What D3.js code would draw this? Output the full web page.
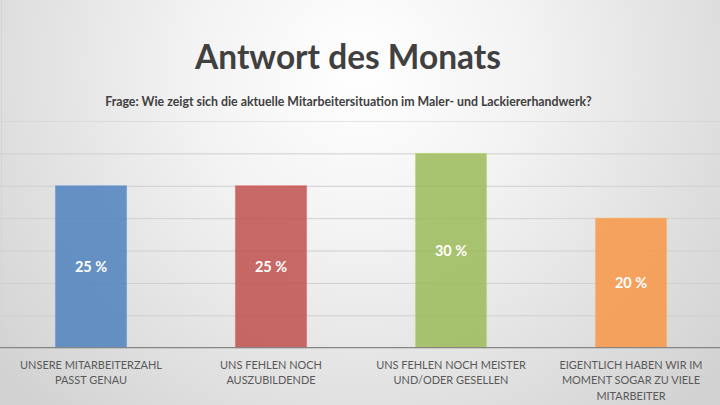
<!DOCTYPE html>
<html>
<head>
<meta charset="utf-8">
<script src="https://cdn.jsdelivr.net/npm/d3@7"></script>
<style>
  html, body { margin: 0; padding: 0; background: #fff; }
  svg { display: block; font-family: Lato, "Open Sans", sans-serif; }
</style>
</head>
<body>
<div id="chart"></div>
<script>
// chart data
const categories = [
  "UNSERE MITARBEITERZAHL\nPASST GENAU",
  "UNS FEHLEN NOCH\nAUSZUBILDENDE",
  "UNS FEHLEN NOCH MEISTER\nUND/ODER GESELLEN",
  "EIGENTLICH HABEN WIR IM\nMOMENT SOGAR ZU VIELE\nMITARBEITER"
];
const values = [25, 25, 30, 20];
const barColors = ["#4f81bd", "#c0504d", "#9bbb59", "#f79646"];
const yTicks = [0, 5, 10, 15, 20, 25, 30, 35];

const title = "Antwort des Monats";
const subtitle = "Frage: Wie zeigt sich die aktuelle Mitarbeitersituation im Maler- und Lackiererhandwerk?";

const W = 720, H = 405;
const svg = d3.select('#chart').append('svg')
  .attr('width', W).attr('height', H)
  .attr('viewBox', `0 0 ${W} ${H}`);

// background: soft radial gradient
const defs = svg.append('defs');
const bg = defs.append('radialGradient').attr('id', 'bg')
  .attr('gradientUnits', 'userSpaceOnUse')
  .attr('cx', 360).attr('cy', 70).attr('r', 470);
bg.append('stop').attr('offset', '0%').attr('stop-color', '#ffffff');
bg.append('stop').attr('offset', '35%').attr('stop-color', '#f3f3f3');
bg.append('stop').attr('offset', '100%').attr('stop-color', '#d2d2d2');
svg.append('rect').attr('width', W).attr('height', H).attr('fill', 'url(#bg)');

// scales
const x = d3.scaleBand()
  .domain(d3.range(categories.length))
  .range([1, 721])
  .paddingInner(0.605)
  .paddingOuter(0.3025);

const y = d3.scaleLinear().domain([0, 35]).range([347.7, 121]);

// gridlines
svg.append('g').attr('class', 'grid')
  .attr('transform', 'translate(0,0)')
  .call(d3.axisLeft(y).tickValues(yTicks.filter(t => t > 0)).tickSize(-W).tickFormat(''))
  .call(g => g.select('.domain').remove())
  .call(g => g.selectAll('line').attr('stroke', '#cfcfcf').attr('stroke-width', 1)
    .attr('stroke-opacity', (d) => d === 35 ? 0.55 : 1));

// left border
svg.append('line')
  .attr('x1', 1.5).attr('x2', 1.5).attr('y1', 0).attr('y2', H)
  .attr('stroke', '#d4d4d4');

// bars
svg.append('g').selectAll('rect')
  .data(values)
  .join('rect')
  .attr('x', (d, i) => x(i))
  .attr('y', d => y(d))
  .attr('width', x.bandwidth())
  .attr('height', d => y(0) - y(d))
  .attr('fill', (d, i) => barColors[i])
  .attr('fill-opacity', 0.85)
  .attr('stroke', (d, i) => d3.color(barColors[i]).brighter(0.5))
  .attr('stroke-opacity', 0.5)
  .attr('stroke-width', 1);

// x axis line
svg.append('g')
  .attr('transform', `translate(0,${y(0)})`)
  .call(d3.axisBottom(x).tickSize(0).tickFormat(''))
  .call(g => g.select('.domain').attr('d', `M0,0H${W}`).attr('stroke', '#858585').attr('stroke-width', 1.3));

// value labels
svg.append('g').selectAll('text')
  .data(values)
  .join('text')
  .attr('x', (d, i) => x(i) + x.bandwidth() / 2)
  .attr('y', d => (y(d) + y(0)) / 2)
  .attr('dy', '0.36em')
  .attr('text-anchor', 'middle')
  .attr('fill', '#ffffff')
  .attr('font-weight', 700)
  .attr('font-size', 14.5)
  .text(d => `${d} %`);

// category labels
const catG = svg.append('g').selectAll('text')
  .data(categories)
  .join('text')
  .attr('text-anchor', 'middle')
  .attr('fill', '#595959')
  .attr('font-size', 12);
catG.each(function(d, i) {
  const t = d3.select(this);
  d.split('\n').forEach((line, j) => {
    t.append('tspan')
      .attr('x', x(i) + x.bandwidth() / 2)
      .attr('y', 368.5 + j * 15.7)
      .text(line);
  });
});
// fit label size to the reference width of the first label line
const firstLine = catG.select('tspan').node();
const lw = firstLine.getComputedTextLength();
catG.attr('font-size', 12 * 142 / lw);

// title & subtitle
const titleEl = svg.append('text')
  .attr('x', 348).attr('y', 69.3)
  .attr('text-anchor', 'middle')
  .attr('fill', '#404040')
  .attr('font-weight', 700)
  .attr('font-size', 32)
  .text(title);
titleEl.attr('font-size', 32 * 306 / titleEl.node().getComputedTextLength());

const subEl = svg.append('text')
  .attr('x', 348.5).attr('y', 106)
  .attr('text-anchor', 'middle')
  .attr('fill', '#404040')
  .attr('font-weight', 700)
  .attr('font-size', 12)
  .text(subtitle);
subEl.attr('font-size', 12 * 487 / subEl.node().getComputedTextLength());
</script>
</body>
</html>
